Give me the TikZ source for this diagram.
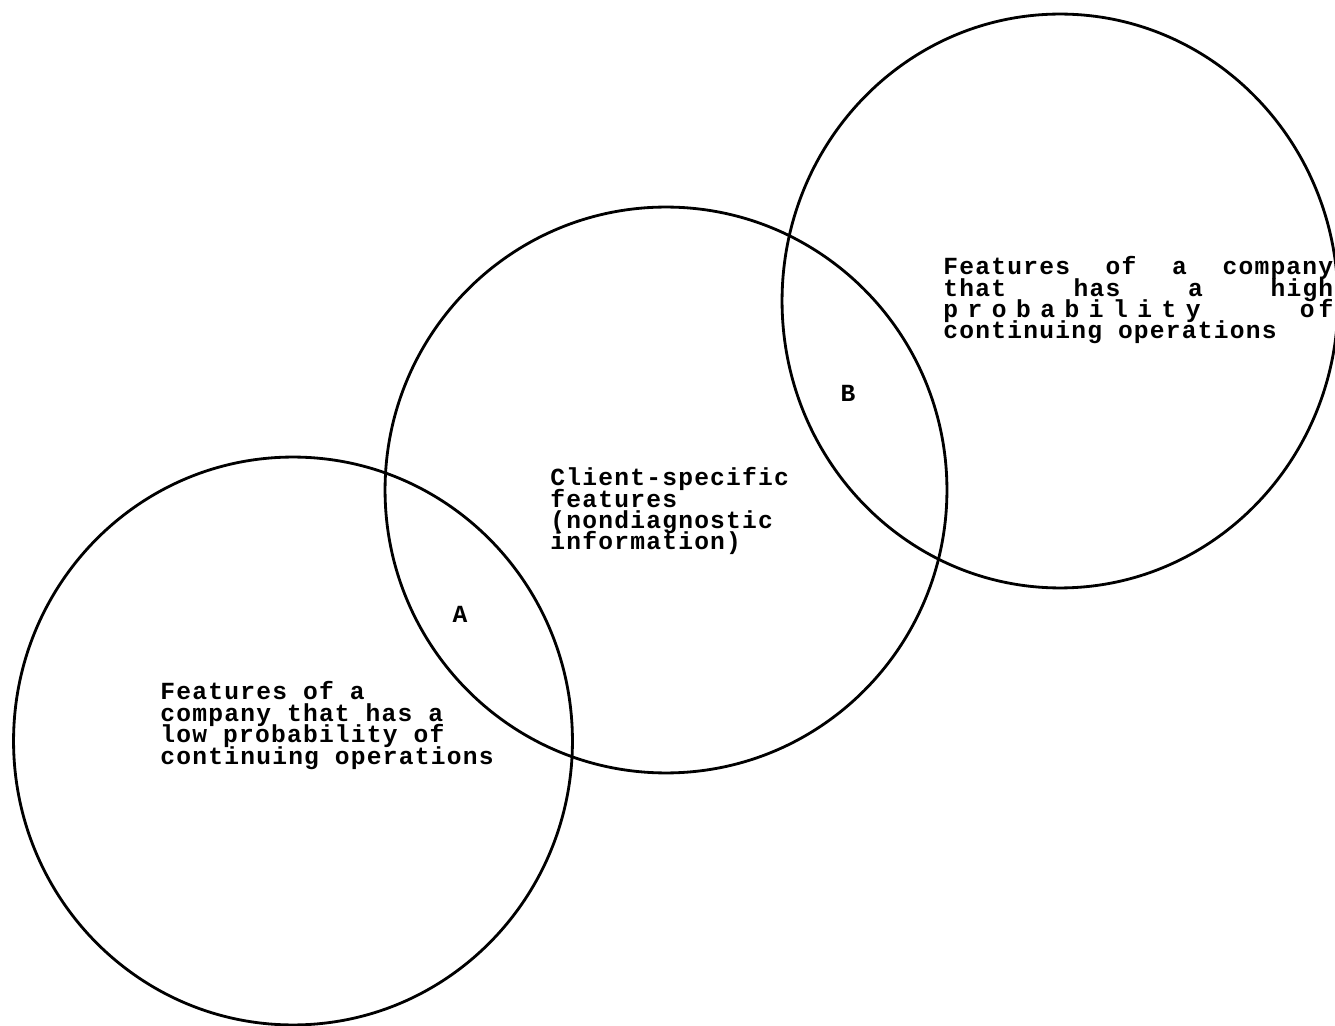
\documentclass[tikz,border=0pt]{standalone}
\usepackage{fontspec}
\setmonofont[LetterSpace=5]{Liberation Mono}
\usetikzlibrary{shapes.geometric}
\newlength{\jw}\setlength{\jw}{7.8cm}
\setlength{\lineskiplimit}{-20pt}
\begin{document}
\begin{tikzpicture}[x=0.02cm, y=-0.02cm,
    font=\ttfamily\bfseries\fontsize{14pt}{12.2pt}\selectfont,
    region/.style={draw, ellipse, line width=1.6pt, inner sep=0pt},
    txt/.style={anchor=base west, align=left, inner sep=0pt},
    lbl/.style={inner sep=0pt}]
  \useasboundingbox (0,0) rectangle (1335,1026);
  % the three feature sets
  \node[region, minimum width=11.18cm, minimum height=11.36cm] (low) at (293,741) {};
  \node[region, minimum width=11.24cm, minimum height=11.32cm] (client) at (666,490) {};
  \node[region, minimum width=11.12cm, minimum height=11.48cm] (high) at (1060,301) {};
  % overlaps
  \node[lbl] (ovA) at (460,614) {A};
  \node[lbl] (ovB) at (848,393) {B};
  % set descriptions (anchored at the last baseline)
  \node[txt] (lowtxt) at (160,764) {Features of a\\company that has a\\low probability of\\continuing operations};
  \node[txt] (clienttxt) at (550,550) {Client-specific\\features\\(nondiagnostic\\information)};
  \node[txt] (hightxt) at (943,339) {\hbox to\jw{Features\hfill of\hfill a\hfill company}\\
    \hbox to\jw{that\hfill has\hfill a\hfill high}\\
    \hbox to\jw{\spaceskip=0.19cm p r o b a b i l i t y\hfill{\spaceskip=0.08cm o f}}\\
    continuing operations};
\end{tikzpicture}
\end{document}
